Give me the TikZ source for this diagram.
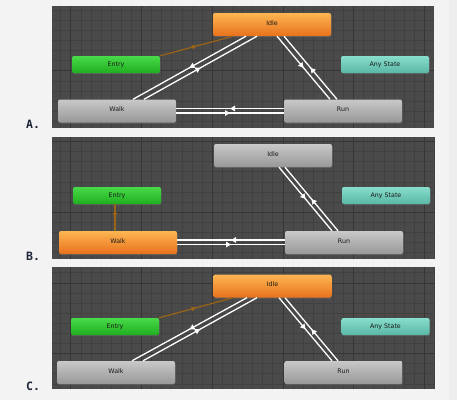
\documentclass[tikz,border=0pt]{standalone}
\usepackage{fontspec}
\setmainfont{DejaVu Sans}
\newfontfamily\labfont{DejaVu Sans Mono}
\usetikzlibrary{arrows.meta,decorations.markings,shadows}
\definecolor{pagebg}{HTML}{F3F3F3}
\definecolor{stripbg}{HTML}{EEEEEE}
\definecolor{gridbg}{HTML}{4A4A4A}
\definecolor{gridminor}{HTML}{414141}
\definecolor{gridmajor}{HTML}{363636}
\definecolor{orangetop}{HTML}{FDB652}
\definecolor{orangebot}{HTML}{E8711C}
\definecolor{greentop}{HTML}{48DA48}
\definecolor{greenbot}{HTML}{1FAE1F}
\definecolor{tealtop}{HTML}{88DDCC}
\definecolor{tealbot}{HTML}{5AB7A5}
\definecolor{graytop}{HTML}{C8C8C8}
\definecolor{graybot}{HTML}{989898}
\definecolor{brownline}{HTML}{9A6416}
\definecolor{labcol}{HTML}{1C2438}
\newcommand\drawpanel[4]{%
  \fill[gridbg] (#1,#2) rectangle (#3,#4);
  \begin{scope}
    \clip (#1,#2) rectangle (#3,#4);
    \draw[gridminor, line width=0.5pt, step=10.1pt] (#1,#2) grid (#3,#4);
    \draw[gridmajor, line width=0.6pt, step=70.7pt] (#1,#2) grid (#3,#4);
  \end{scope}}
\tikzset{
  state/.style={rectangle, rounded corners=2pt, inner sep=0pt,
    font=\fontsize{6.3}{7}\selectfont, text=black!90, shading=axis,
    drop shadow={opacity=0.35, shadow xshift=0.5pt, shadow yshift=-1pt}},
  bigstate/.style={state, minimum width=118pt, minimum height=23pt},
  smallstate/.style={state, minimum width=88pt, minimum height=17pt},
  orangest/.style={top color=orangetop, bottom color=orangebot},
  greenst/.style={top color=greentop, bottom color=greenbot},
  tealst/.style={top color=tealtop, bottom color=tealbot},
  grayst/.style={top color=graytop, bottom color=graybot},
  trans/.style={draw=white, line width=1.3pt, postaction={decorate},
    decoration={markings, mark=at position 0.5 with {\arrow[white]{Triangle[length=5pt,width=5.5pt]}}}},
  entrytrans/.style={draw=brownline, line width=1.2pt, postaction={decorate},
    decoration={markings, mark=at position 0.5 with {\arrow[brownline]{Triangle[length=4.5pt,width=4.5pt]}}}},
  panellabel/.style={anchor=base west, inner sep=0pt, text=labcol,
    font=\labfont\bfseries\fontsize{11.5}{12}\selectfont}
}
\begin{document}
\begin{tikzpicture}[x=1pt,y=-1pt]
\useasboundingbox (0,0) rectangle (457,400);
\fill[pagebg] (0,0) rectangle (457,400);
\fill[stripbg] (449,0) rectangle (457,400);
\drawpanel{52}{6}{434}{128}
\drawpanel{52}{137}{435}{259}
\drawpanel{52}{267}{435}{389}

% ---------- Panel A ----------
\node[bigstate, orangest] (idleA) at (272,24.5) {\raisebox{3.5pt}{Idle}};
\node[smallstate, greenst] (entryA) at (116,64.5) {Entry};
\node[smallstate, tealst] (anyA) at (385,64.5) {Any State};
\node[bigstate, grayst] (walkA) at (117,111) {\raisebox{3.5pt}{Walk}};
\node[bigstate, grayst] (runA) at (343,111) {\raisebox{3.5pt}{Run}};
\draw[entrytrans] (entryA.north east) -- ([xshift=-39pt]idleA.south);
\draw[trans] ([xshift=-26pt]idleA.south) -- ([xshift=16pt]walkA.north);
\draw[trans] ([xshift=27pt]walkA.north) -- ([xshift=-15pt]idleA.south);
\draw[trans] ([xshift=5pt]idleA.south) -- ([xshift=-13pt]runA.north);
\draw[trans] ([xshift=-6pt]runA.north) -- ([xshift=12pt]idleA.south);
\draw[trans] ([yshift=2.5pt]runA.west) -- ([yshift=2.5pt]walkA.east);
\draw[trans] ([yshift=-2pt]walkA.east) -- ([yshift=-2pt]runA.west);
\node[panellabel] (labA) at (26,128.5) {A.};

% ---------- Panel B ----------
\node[bigstate, grayst] (idleB) at (273,155.5) {\raisebox{3.5pt}{Idle}};
\node[smallstate, greenst] (entryB) at (117,195.5) {Entry};
\node[smallstate, tealst] (anyB) at (386,195.5) {Any State};
\node[bigstate, orangest] (walkB) at (118,242.5) {\raisebox{3.5pt}{Walk}};
\node[bigstate, grayst] (runB) at (344,242.5) {\raisebox{3.5pt}{Run}};
\draw[entrytrans] ([xshift=-2pt]entryB.south) -- ([xshift=-3pt]walkB.north);
\draw[trans] ([xshift=6pt]idleB.south) -- ([xshift=-12pt]runB.north);
\draw[trans] ([xshift=-6pt]runB.north) -- ([xshift=12pt]idleB.south);
\draw[trans] ([yshift=2.5pt]runB.west) -- ([yshift=2.5pt]walkB.east);
\draw[trans] ([yshift=-2pt]walkB.east) -- ([yshift=-2pt]runB.west);
\node[panellabel] (labB) at (26,260.5) {B.};

% ---------- Panel C ----------
\node[bigstate, orangest] (idleC) at (272.5,286) {\raisebox{3.5pt}{Idle}};
\node[smallstate, greenst] (entryC) at (115,326.5) {Entry};
\node[smallstate, tealst] (anyC) at (385.5,326.5) {Any State};
\node[bigstate, grayst] (walkC) at (116,372.5) {\raisebox{3.5pt}{Walk}};
\node[bigstate, grayst] (runC) at (343.5,372.5) {\raisebox{3.5pt}{Run}};
\draw[entrytrans] (entryC.north east) -- ([xshift=-39.5pt]idleC.south);
\draw[trans] ([xshift=-25.5pt]idleC.south) -- ([xshift=16pt]walkC.north);
\draw[trans] ([xshift=27pt]walkC.north) -- ([xshift=-15.5pt]idleC.south);
\draw[trans] ([xshift=6.5pt]idleC.south) -- ([xshift=-11.5pt]runC.north);
\draw[trans] ([xshift=-5.5pt]runC.north) -- ([xshift=12.5pt]idleC.south);
\node[panellabel] (labC) at (26,390.5) {C.};
\end{tikzpicture}
\end{document}
